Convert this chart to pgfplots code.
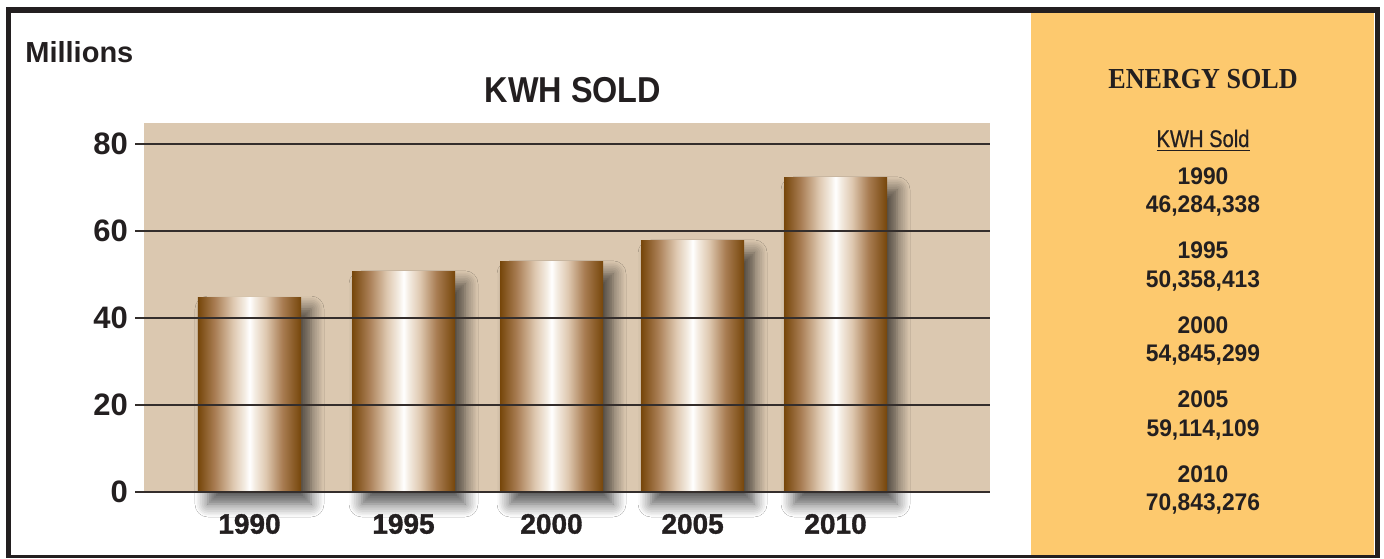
\documentclass[border=0pt]{standalone}
\usepackage{fontspec}
\setmainfont{Liberation Sans}
\newfontfamily\panelserif[FakeStretch=0.9]{Liberation Serif}
\newfontfamily\condsans[FakeStretch=0.84, FakeBold=0.6]{Liberation Sans}
\newfontfamily\numsans[FakeStretch=0.95]{Liberation Sans}
\newfontfamily\titlesans[FakeStretch=0.9]{Liberation Sans}
\newfontfamily\heavysans[BoldFeatures={FakeBold=1.2}]{Liberation Sans}
\usepackage{pgfplots}
\pgfplotsset{compat=1.18}
\usetikzlibrary{shadows.blur}

\definecolor{plottan}{RGB}{219,200,176}
\definecolor{panelyellow}{RGB}{253,201,110}
\definecolor{gridgray}{RGB}{52,46,44}
\definecolor{framek}{RGB}{35,31,32}
\definecolor{barbrown}{RGB}{118,70,10}
\definecolor{barmid}{RGB}{168,124,82}
\definecolor{barlight}{RGB}{222,200,176}
\definecolor{barpale}{RGB}{244,236,226}

% bar gradient: only 25bp..75bp lands on the bar itself
\pgfdeclarehorizontalshading{metal}{100bp}{%
  color(0bp)=(barbrown); color(25bp)=(barbrown);
  color(33bp)=(barmid); color(42bp)=(barlight);
  color(47.5bp)=(barpale); color(50bp)=(white);
  color(52.5bp)=(barpale); color(58bp)=(barlight);
  color(66bp)=(barmid); color(75bp)=(barbrown);
  color(100bp)=(barbrown)}

\tikzset{metalbar/.style={ybar, bar width=0.669, draw=none, shade, shading=metal,
  blur shadow={shadow xshift=5pt, shadow yshift=-6pt, shadow blur radius=6.5pt,
  shadow blur steps=8, shadow blur extra rounding=0pt, shadow opacity=68}}}

\begin{document}
\begin{tikzpicture}
\useasboundingbox (0,0) rectangle (692pt,279pt);
\fill[white] (0,0) rectangle (692pt,279pt);

% frame and side panel, in pixel units of the reference
\begin{scope}[x=0.5pt, y=-0.5pt, yshift=279pt]
  \fill[panelyellow] (1031,13) rectangle (1374,555);
  \draw[framek, line width=2.6pt] (8.5,556) -- (8.5,10) -- (1377.5,10) -- (1377.5,556);
  \draw[framek, line width=1.5pt] (6,556) -- (1380,556);

  \node[anchor=base west, inner sep=0pt, font=\fontsize{14.5}{16}\selectfont\bfseries, text=framek] at (25,63) {Millions};
  \node[anchor=base, inner sep=0pt, font=\titlesans\fontsize{18}{20}\selectfont\bfseries, text=framek] at (573,103) {KWH SOLD};

  \node[anchor=base, inner sep=0pt, font=\panelserif\fontsize{14.5}{16}\selectfont\bfseries, text=framek] at (1203,89) {ENERGY SOLD};
  \node[anchor=base, inner sep=0pt, font=\condsans\fontsize{12}{14}\selectfont, text=framek] at (1203,147) {\underline{KWH Sold}};
  \foreach \yr/\val [count=\i from 0] in {1990/{46,284,338}, 1995/{50,358,413},
      2000/{54,845,299}, 2005/{59,114,109}, 2010/{70,843,276}} {
    \node[anchor=base, inner sep=0pt, font=\numsans\fontsize{12}{14}\selectfont\bfseries, text=framek] at (1203,184+74.5*\i) {\yr};
    \node[anchor=base, inner sep=0pt, font=\numsans\fontsize{12}{14}\selectfont\bfseries, text=framek] at (1203,212.5+74.5*\i) {\val};
  }
\end{scope}

\begin{axis}[
    at={(72pt,33pt)}, anchor=south west,
    scale only axis,
    width=423pt, height=184.5pt,
    xmin=-0.685, xmax=4.808,
    ymin=0, ymax=84.8,
    clip=false,
    axis on top,
    axis background/.style={fill=plottan},
    axis line style={draw=none},
    ytick={0,20,40,60,80},
    ymajorgrids,
    grid style={gridgray, line width=0.85pt},
    ytick pos=left,
    tick align=outside,
    major tick length=4.5pt,
    ytick style={gridgray, line width=0.85pt},
    xtick={0,1,1.961,2.877,3.805},
    xticklabels={1990,1995,2000,2005,2010},
    xtick style={draw=none},
    /pgf/number format/assume math mode=true,
    yticklabel style={font=\fontsize{15.5}{18}\selectfont\bfseries, text=framek},
    xticklabel style={font=\heavysans\fontsize{14}{16}\selectfont\bfseries, text=framek, yshift=-3pt},
]
\addplot[metalbar] coordinates {(0,44.8)};
\addplot[metalbar] coordinates {(1,50.6)};
\addplot[metalbar] coordinates {(1.961,52.9)};
\addplot[metalbar] coordinates {(2.877,57.7)};
\addplot[metalbar] coordinates {(3.805,72.2)};
\end{axis}
\end{tikzpicture}
\end{document}
